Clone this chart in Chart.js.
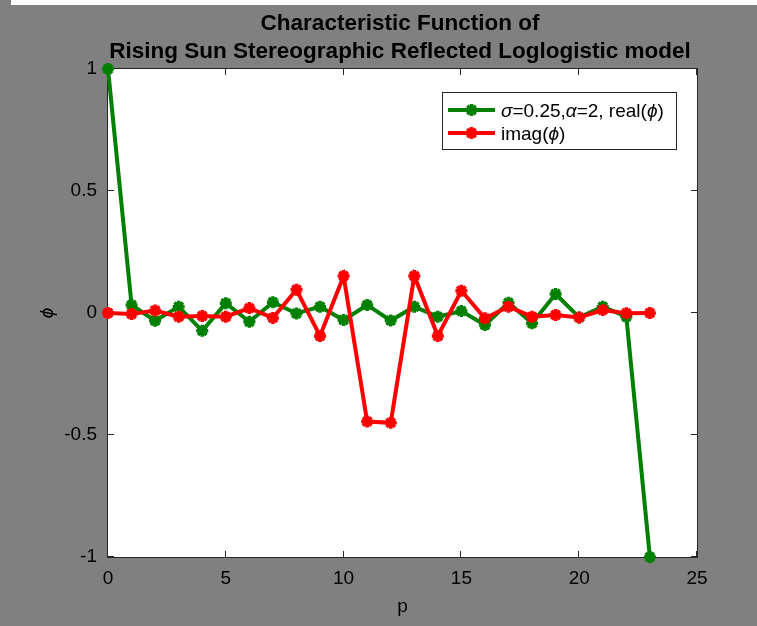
<!DOCTYPE html>
<html>
<head>
<meta charset="utf-8">
<script src="https://cdn.jsdelivr.net/npm/chart.js@4.4.0/dist/chart.umd.min.js"></script>
<style>
  html, body { margin: 0; padding: 0; background: #808080; }
  #wrap { position: relative; width: 757px; height: 626px; }
  #topStrip { position: absolute; left: 11px; top: 0; width: 746px; height: 5px; background: #fff; }
</style>
</head>
<body>
<div id="wrap">
  <canvas id="cfChart" width="757" height="626"></canvas>
  <div id="topStrip"></div>
</div>
<script>
// data
const pValues = [0, 1, 2, 3, 4, 5, 6, 7, 8, 9, 10, 11, 12, 13, 14, 15, 16, 17, 18, 19, 20, 21, 22, 23];
const realPhi = [1, 0.033, -0.032, 0.026, -0.073, 0.04, -0.036, 0.044, -0.002, 0.026, -0.029, 0.033, -0.031, 0.026, -0.015, 0.008, -0.049, 0.042, -0.042, 0.078, -0.018, 0.026, -0.015, -1];
const imagPhi = [0, -0.004, 0.01, -0.015, -0.012, -0.015, 0.02, -0.02, 0.095, -0.094, 0.152, -0.445, -0.45, 0.152, -0.094, 0.091, -0.022, 0.026, -0.015, -0.008, -0.018, 0.012, -0.001, 0];
const xTicks = [0, 5, 10, 15, 20, 25];
const yTicks = [-1, -0.5, 0, 0.5, 1];
const titleLines = ['Characteristic Function of', 'Rising Sun Stereographic Reflected Loglogistic model'];

const FONT = '"Liberation Sans", Arial, Helvetica, sans-serif';
const AXIS_COLOR = '#262626';
const GREEN = '#008000';
const RED = '#ff0000';

function toPoints(xs, ys) {
    return xs.map((x, i) => ({ x: x, y: ys[i] }));
}

function drawStar(ctx, x, y, r, color, width) {
    const d = r * Math.SQRT1_2;
    ctx.save();
    ctx.strokeStyle = color;
    ctx.lineWidth = width;
    ctx.beginPath();
    ctx.moveTo(x - r, y); ctx.lineTo(x + r, y);
    ctx.moveTo(x, y - r); ctx.lineTo(x, y + r);
    ctx.moveTo(x - d, y - d); ctx.lineTo(x + d, y + d);
    ctx.moveTo(x - d, y + d); ctx.lineTo(x + d, y - d);
    ctx.stroke();
    ctx.restore();
}

// draws text pieces one after another, some italic
function drawPieces(ctx, pieces, x, y) {
    pieces.forEach(p => {
        ctx.font = (p[1] ? 'italic ' : '') + '19px ' + FONT;
        ctx.fillText(p[0], x, y);
        x += ctx.measureText(p[0]).width;
    });
}

const matlabAxes = {
    id: 'matlabAxes',
    beforeDraw(chart) {
        const ctx = chart.ctx;
        const a = chart.chartArea;
        ctx.save();
        ctx.fillStyle = '#ffffff';
        ctx.fillRect(a.left, a.top, a.right - a.left, a.bottom - a.top);
        ctx.restore();
    },
    beforeDatasetsDraw(chart) {
        const ctx = chart.ctx;
        const a = chart.chartArea;
        const xs = chart.scales.x;
        const ys = chart.scales.y;
        ctx.save();
        ctx.strokeStyle = AXIS_COLOR;
        ctx.lineWidth = 1;
        ctx.strokeRect(a.left - 0.5, a.top - 0.5, a.right - a.left + 1, a.bottom - a.top + 1);
        ctx.beginPath();
        xTicks.forEach(v => {
            const px = Math.round(xs.getPixelForValue(v)) - 0.5;
            ctx.moveTo(px, a.bottom); ctx.lineTo(px, a.bottom - 6);
            ctx.moveTo(px, a.top); ctx.lineTo(px, a.top + 6);
        });
        yTicks.forEach(v => {
            const py = Math.round(ys.getPixelForValue(v)) - 0.5;
            ctx.moveTo(a.left, py); ctx.lineTo(a.left + 6, py);
            ctx.moveTo(a.right, py); ctx.lineTo(a.right - 6, py);
        });
        ctx.stroke();
        ctx.restore();
    },
    afterDraw(chart) {
        const ctx = chart.ctx;
        ctx.save();
        // title
        ctx.fillStyle = '#000';
        ctx.font = 'bold 22.5px ' + FONT;
        ctx.textAlign = 'center';
        ctx.textBaseline = 'alphabetic';
        ctx.fillText(titleLines[0], 400, 30);
        ctx.fillText(titleLines[1], 400, 58);

        // legend
        const lx = 442, ly = 92, lw = 234, lh = 57;
        ctx.fillStyle = '#fff';
        ctx.fillRect(lx, ly, lw, lh);
        ctx.strokeStyle = AXIS_COLOR;
        ctx.lineWidth = 1;
        ctx.strokeRect(lx + 0.5, ly + 0.5, lw, lh);

        const rows = [
            { color: GREEN, y: 110, pieces: [['σ', true], ['=0.25,', false], ['α', true], ['=2, real(', false], ['ϕ', true], [')', false]] },
            { color: RED, y: 133, pieces: [['imag(', false], ['ϕ', true], [')', false]] }
        ];
        rows.forEach(r => {
            ctx.strokeStyle = r.color;
            ctx.lineWidth = 4;
            ctx.beginPath();
            ctx.moveTo(448, r.y); ctx.lineTo(495, r.y);
            ctx.stroke();
            drawStar(ctx, 471.5, r.y, 6, r.color, 3.5);
            ctx.fillStyle = '#000';
            ctx.textAlign = 'left';
            ctx.textBaseline = 'alphabetic';
            drawPieces(ctx, r.pieces, 501, r.y + 7);
        });
        ctx.restore();
    }
};

new Chart(document.getElementById('cfChart'), {
    type: 'line',
    data: {
        datasets: [{
            label: 'σ=0.25,α=2, real(ϕ)',
            data: toPoints(pValues, realPhi),
            borderColor: GREEN,
            backgroundColor: GREEN,
            borderWidth: 4,
            pointStyle: 'star',
            pointRadius: 6,
            pointBorderWidth: 3.5,
            pointBorderColor: GREEN,
            tension: 0,
            clip: false,
            order: 1
        }, {
            label: 'imag(ϕ)',
            data: toPoints(pValues, imagPhi),
            borderColor: RED,
            backgroundColor: RED,
            borderWidth: 4,
            pointStyle: 'star',
            pointRadius: 6,
            pointBorderWidth: 3.5,
            pointBorderColor: RED,
            tension: 0,
            clip: false,
            order: 0
        }]
    },
    options: {
        responsive: false,
        animation: false,
        events: [],
        layout: { padding: { left: 32, top: 69, right: 60, bottom: 4 } },
        plugins: {
            legend: { display: false },
            tooltip: { enabled: false },
            title: { display: false }
        },
        scales: {
            x: {
                type: 'linear',
                min: 0,
                max: 25,
                afterBuildTicks: s => { s.ticks = xTicks.map(v => ({ value: v })); },
                ticks: { color: '#000', font: { family: FONT, size: 19 }, padding: 10, maxRotation: 0, callback: v => String(v) },
                grid: { display: false, drawTicks: false },
                border: { display: false },
                title: { display: true, text: 'p', color: '#000', font: { family: FONT, size: 19 } },
                afterFit: s => { s.height = 65; }
            },
            y: {
                type: 'linear',
                min: -1,
                max: 1,
                afterBuildTicks: s => { s.ticks = yTicks.map(v => ({ value: v })); },
                ticks: { color: '#000', font: { family: FONT, size: 19 }, padding: 11, callback: v => String(v) },
                grid: { display: false, drawTicks: false },
                border: { display: false },
                title: { display: true, text: 'ϕ', color: '#000', font: { family: FONT, size: 19, style: 'italic' } },
                afterFit: s => { s.width = 76; }
            }
        }
    },
    plugins: [matlabAxes]
});
</script>
</body>
</html>
